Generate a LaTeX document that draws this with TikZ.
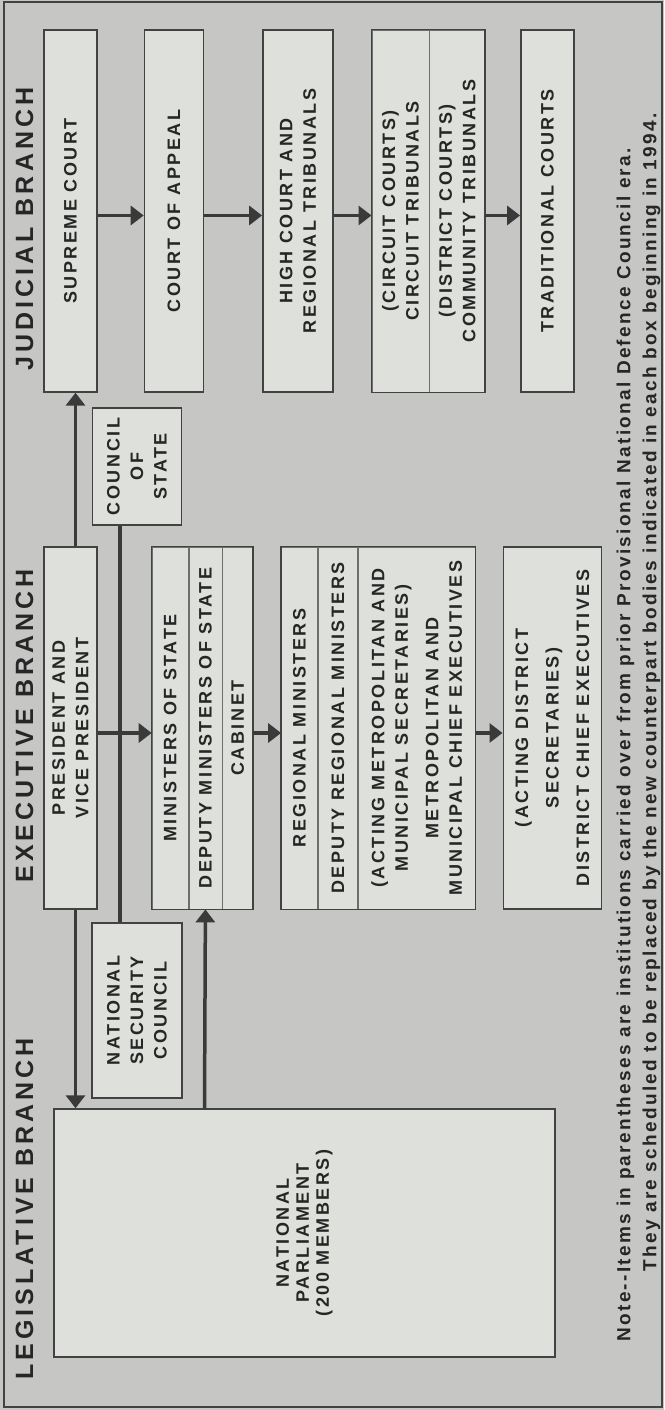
\documentclass[tikz,border=0pt]{standalone}
\usepackage{fontspec}
\setmainfont{Liberation Sans}
\newfontfamily\chartfont[LetterSpace=14]{Liberation Sans}
\newfontfamily\titlefont[LetterSpace=16]{Liberation Sans}
\newfontfamily\notefont[LetterSpace=12]{Liberation Sans}
\usepackage{tikz}
\usetikzlibrary{arrows.meta,positioning,calc}
\definecolor{bgcol}{RGB}{198,199,197}
\definecolor{boxcol}{RGB}{222,224,220}
\definecolor{edgecol}{RGB}{66,66,66}
\definecolor{divcol}{RGB}{110,110,110}
\definecolor{linkcol}{RGB}{58,58,58}
\definecolor{inkcol}{RGB}{38,38,38}

\begin{document}
\begin{tikzpicture}[
   x=1pt,y=1pt,rotate=90,transform shape,
   font=\chartfont\bfseries\fontsize{18}{23.5}\selectfont,
   every node/.append style={text=inkcol},
   box/.style={draw=edgecol,line width=1.4pt,fill=boxcol,align=center,inner sep=0pt,minimum width=362pt},
   row/.style={draw=divcol,line width=0.8pt,fill=boxcol,align=center,inner sep=0pt,minimum width=362pt},
   edge/.style={draw=edgecol,line width=1.4pt},
   title/.style={anchor=base,font=\titlefont\bfseries\fontsize{25}{28}\selectfont},
   link/.style={draw=linkcol,line width=3.5pt},
   >={Triangle[length=13pt,width=19pt]}]
 \path[use as bounding box,fill=bgcol] (0,-664) rectangle (1410,0);
 \draw[edge,line width=1.2pt] (3,-662) rectangle (1408,-4);
 % branch titles
 \node[title] (legt) at (201,-33) {LEGISLATIVE BRANCH};
 \node[title] (exet) at (684,-33) {EXECUTIVE BRANCH};
 \node[title] (judt) at (1181,-33) {JUDICIAL BRANCH};
 % judicial branch
 \node[box,minimum height=53pt] (sup) at (1199,-70.5) {SUPREME COURT};
 \node[box,minimum height=59pt,below=46pt of sup] (app) {COURT OF APPEAL};
 \node[box,minimum height=70pt,below=58pt of app] (high) {HIGH COURT AND\\REGIONAL TRIBUNALS};
 \node[row,minimum height=57pt,below=38pt of high] (circ1) {(CIRCUIT COURTS)\\CIRCUIT TRIBUNALS};
 \node[row,minimum height=55pt,below=0pt of circ1] (circ2) {(DISTRICT COURTS)\\COMMUNITY TRIBUNALS};
 \draw[edge] (circ1.north west) rectangle (circ2.south east);
 \node[box,minimum height=53pt,below=35pt of circ2] (trad) {TRADITIONAL COURTS};
 % executive branch
 \node[box,minimum height=53pt] (pres) at (682,-70.5) {PRESIDENT AND\\VICE PRESIDENT};
 \node[row,minimum height=36pt,below=54pt of pres] (min1) {MINISTERS OF STATE};
 \node[row,minimum height=33pt,below=0pt of min1] (min2) {DEPUTY MINISTERS OF STATE};
 \node[row,minimum height=30pt,below=0pt of min2] (min3) {CABINET};
 \draw[edge] (min1.north west) rectangle (min3.south east);
 \node[row,minimum height=36pt,below=28pt of min3] (reg1) {REGIONAL MINISTERS};
 \node[row,minimum height=39pt,below=0pt of reg1] (reg2) {DEPUTY REGIONAL MINISTERS};
 \node[row,minimum height=117pt,below=0pt of reg2] (reg3) {(ACTING METROPOLITAN AND\\MUNICIPAL SECRETARIES)\\[7pt]METROPOLITAN AND\\MUNICIPAL CHIEF EXECUTIVES};
 \draw[edge] (reg1.north west) rectangle (reg3.south east);
 \node[box,minimum height=98pt,below=27pt of reg3] (dist) {(ACTING DISTRICT\\[7pt]SECRETARIES)\\[7pt]DISTRICT CHIEF EXECUTIVES};
 \node[box,minimum width=117pt,minimum height=89pt] (cos) at (943.5,-137) {COUNCIL\\OF\\STATE};
 % legislative branch
 \node[box,minimum width=175pt,minimum height=90pt] (nsc) at (399.5,-137) {NATIONAL\\SECURITY\\COUNCIL};
 \node[box,minimum width=248pt,minimum height=501pt,font=\chartfont\bfseries\fontsize{18}{20}\selectfont] (parl) at (177,-304.5) {NATIONAL\\PARLIAMENT\\(200 MEMBERS)};
 % connectors
 \draw[link,->] ($(sup.south)+(-4.5,0)$) -- ($(app.north)+(-4.5,0)$);
 \draw[link,->] ($(app.south)+(-4.5,0)$) -- ($(high.north)+(-4.5,0)$);
 \draw[link,->] ($(high.south)+(-4.5,0)$) -- ($(circ1.north)+(-4.5,0)$);
 \draw[link,->] ($(circ2.south)+(-4.5,0)$) -- ($(trad.north)+(-4.5,0)$);
 \draw[link,->] ($(pres.south)+(-5,0)$) -- ($(min1.north)+(-5,0)$);
 \draw[link,->] ($(min3.south)+(-5,0)$) -- ($(reg1.north)+(-5,0)$);
 \draw[link,->] ($(reg3.south)+(-5,0)$) -- ($(dist.north)+(-5,0)$);
 \draw[link,->] ($(pres.east)+(0,-5)$) -- ($(sup.west)+(0,-5)$);
 \draw[link,->] ($(pres.west)+(0,-5)$) -- ($(parl.east)+(0,229)$);
 \draw[link] ($(cos.west)+(0,17)$) -- ($(nsc.east)+(0,17)$);
 \draw[link,->] ($(parl.east)+(0,100)$) -- (min2.west);
 % note
 \node[anchor=north west,align=left,font=\notefont\bfseries\fontsize{19}{26}\selectfont] (note) at (65,-613)
   {Note-{}-Items in parentheses are institutions carried over from prior Provisional National Defence Council era.\\
    \hspace*{70pt}They are scheduled to be replaced by the new counterpart bodies indicated in each box beginning in 1994.};
\end{tikzpicture}
\end{document}
